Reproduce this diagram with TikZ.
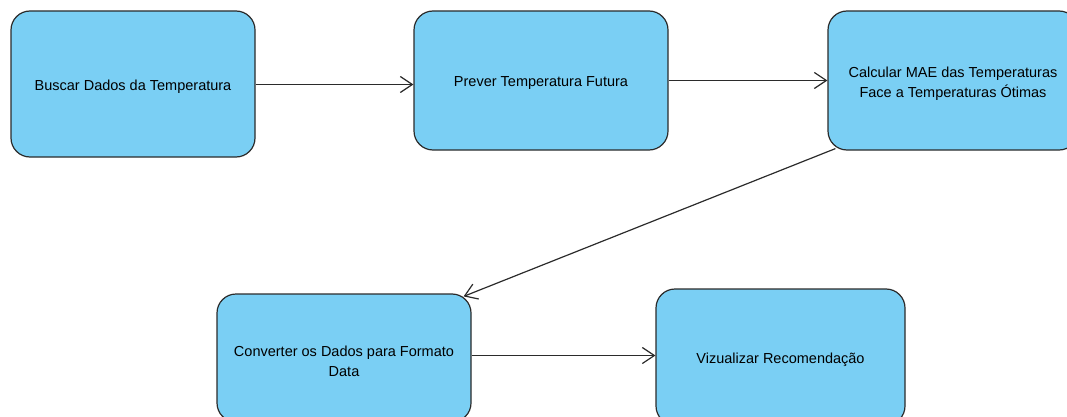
\documentclass[tikz,border=0pt]{standalone}
\usepackage{fontspec}
\setmainfont{Liberation Sans}
\usetikzlibrary{arrows.meta}
\definecolor{boxfill}{HTML}{7ACFF4}
\definecolor{boxline}{HTML}{2B2B2B}
\tikzset{
  stepbox/.style={draw=boxline, fill=boxfill, line width=1.2pt, rounded corners=19pt,
    inner sep=0pt},
  steptext/.style={align=center, inner sep=0pt, yshift=-3pt,
    font=\fontsize{14.5}{20}\selectfont},
  flow/.style={draw=boxline, line width=1.2pt,
    -{Straight Barb[length=12pt, width=16pt, line width=1.2pt]}}
}
\begin{document}
\begin{tikzpicture}[x=1pt, y=-1pt]
  \useasboundingbox (0,0) rectangle (1067,417);
  \clip (0,0) rectangle (1067,417);

  \node[stepbox, minimum width=244pt, minimum height=146pt,
    label={[steptext]center:Buscar Dados da Temperatura}] (b1) at (133,84) {};
  \node[stepbox, minimum width=254pt, minimum height=139pt,
    label={[steptext]center:Prever Temperatura Futura}] (b2) at (541,80.5) {};
  \node[stepbox, minimum width=250pt, minimum height=139pt,
    label={[steptext]center:Calcular MAE das Temperaturas\\Face a Temperaturas Ótimas}]
    (b3) at (953,80.5) {};
  \node[stepbox, minimum width=254pt, minimum height=128pt,
    label={[steptext]center:Converter os Dados para Formato\\Data}] (b4) at (344,358) {};
  \node[stepbox, minimum width=249pt, minimum height=136pt,
    label={[steptext]center:Vizualizar Recomendação}] (b5) at (780.5,357) {};

  % connector end points on the box borders
  \coordinate (c1) at ([yshift=-0.5pt]b1.east);
  \coordinate (c3) at ([shift={(8pt,2pt)}]b3.south west);
  \coordinate (c4) at ([shift={(-8pt,-3pt)}]b4.north east);
  \coordinate (c5) at ([yshift=2.5pt]b4.east);

  \draw[flow] (c1) -- (b2.west |- c1);
  \draw[flow] (b2.east) -- (b3.west |- b2.east);
  \draw[flow] (c3) -- (c4);
  \draw[flow] (c5) -- (b5.west |- c5);
\end{tikzpicture}
\end{document}
